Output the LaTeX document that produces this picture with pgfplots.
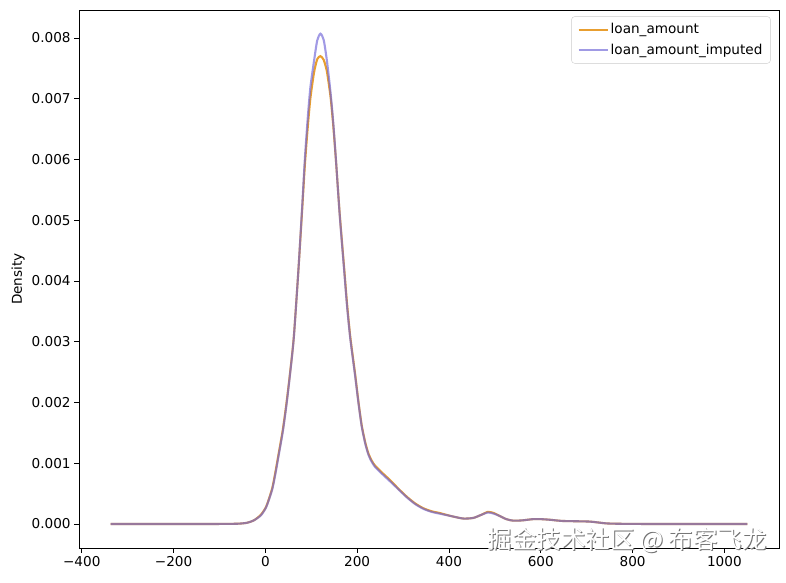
\documentclass[border=0pt]{standalone}
\usepackage{pgfplots}
\pgfplotsset{compat=1.18}
\usepackage{pgfplotstable}
\usepackage{fontspec}
\setmainfont{DejaVu Sans}
\newfontfamily\cjk{Noto Sans CJK SC}
\definecolor{korange}{RGB}{232,158,48}
\definecolor{kblue}{RGB}{110,100,215}
\pgfplotstableread{
x orig imp
-337 0 0
-250 0 0
-150 0 0
-100 0.000001 0.000001
-60 0.000005 0.000005
-40 0.00002 0.00002
-25 0.00006 0.00006
-10 0.00015 0.00014
0 0.00026 0.00025
5 0.00035 0.00034
15 0.00059 0.00057
22 0.00086 0.00083
29 0.00116 0.00113
38 0.00155 0.00152
46 0.00199 0.00196
54 0.00250 0.00248
62 0.00308 0.00307
72 0.00418 0.00418
80 0.00515 0.00520
86 0.00590 0.00600
92 0.00650 0.00665
98 0.00700 0.00718
106 0.00743 0.00762
113 0.00765 0.00796
120 0.00770 0.00807
127 0.00764 0.00797
134 0.00745 0.00763
142 0.00703 0.00710
148 0.00655 0.00660
154 0.00596 0.00597
162 0.00510 0.00508
172 0.00418 0.00414
178 0.00362 0.00358
185 0.00308 0.00305
195 0.00250 0.00247
203 0.00200 0.00198
210 0.00162 0.00160
218 0.00133 0.00131
225 0.00115 0.00113
232 0.00104 0.00102
239 0.00096 0.00094
255 0.00084 0.00082
272 0.00072 0.00070
290 0.00058 0.00057
308 0.00045 0.00044
326 0.00034 0.00033
344 0.00026 0.00025
362 0.00021 0.00020
380 0.00018 0.00017
405 0.00013 0.00013
431 0.00009 0.00009
453 0.00010 0.00010
470 0.00015 0.00015
485 0.00020 0.00019
498 0.00018 0.00017
511 0.00013 0.00013
525 0.00008 0.00008
540 0.000055 0.000055
560 0.00006 0.00006
583 0.00008 0.00008
600 0.00008 0.00008
620 0.00007 0.00007
648 0.00005 0.00005
706 0.00004 0.00004
743 0.00001 0.00001
780 0.000003 0.000003
850 0 0
950 0 0
1050 0 0
}\kde
\begin{document}
\begin{tikzpicture}
\begin{axis}[
  scale only axis,
  width=700pt, height=538pt,
  xmin=-406, xmax=1119,
  ymin=-0.000395, ymax=0.00846,
  xtick={-400,-200,0,200,400,600,800,1000},
  xticklabels={−400,−200,0,200,400,600,800,1000},
  ytick={0,0.001,0.002,0.003,0.004,0.005,0.006,0.007,0.008},
  yticklabels={0.000,0.001,0.002,0.003,0.004,0.005,0.006,0.007,0.008},
  scaled y ticks=false,
  tick align=outside,
  major tick length=4.9pt,
  tick style={black, line width=0.8pt},
  xtick pos=bottom, ytick pos=left,
  axis line style={line width=0.8pt},
  ticklabel style={font=\fontsize{13.6}{16}\selectfont},
  ylabel={Density},
  ylabel style={font=\fontsize{13.6}{16}\selectfont},
  legend style={at={(0.988,0.988)}, anchor=north east, draw=black!20, rounded corners=3pt,
    font=\fontsize{13.6}{16}\selectfont, inner xsep=6pt, inner ysep=5pt, row sep=5pt,
    fill=white, fill opacity=0.8, text opacity=1},
  legend cell align=left,
  legend image code/.code={\draw[#1, line width=2.1pt] (0pt,0pt) -- (29pt,0pt);},
]
\addplot[korange, line width=2.1pt, smooth, tension=0.4] table[x=x, y=orig] {\kde};
\addlegendentry{loan\_amount}
\addplot[kblue, line width=2.1pt, smooth, tension=0.4, draw opacity=0.65] table[x=x, y=imp] {\kde};
\addlegendentry{loan\_amount\_imputed}
\end{axis}
\node[anchor=south east, inner sep=0pt, font=\cjk\fontsize{24.5}{26}\selectfont, text=black!55] at ([xshift=-11pt,yshift=-6pt]current axis.south east) {掘金技术社区 @ 布客飞龙};
\node[anchor=south east, inner sep=0pt, font=\cjk\fontsize{24.5}{26}\selectfont, text=white] at ([xshift=-11.9pt,yshift=-5.1pt]current axis.south east) {掘金技术社区 @ 布客飞龙};
\pgfresetboundingbox
\path ([xshift=-79pt,yshift=-34pt]current axis.south west) rectangle ([xshift=7pt,yshift=10pt]current axis.north east);
\end{tikzpicture}
\end{document}
